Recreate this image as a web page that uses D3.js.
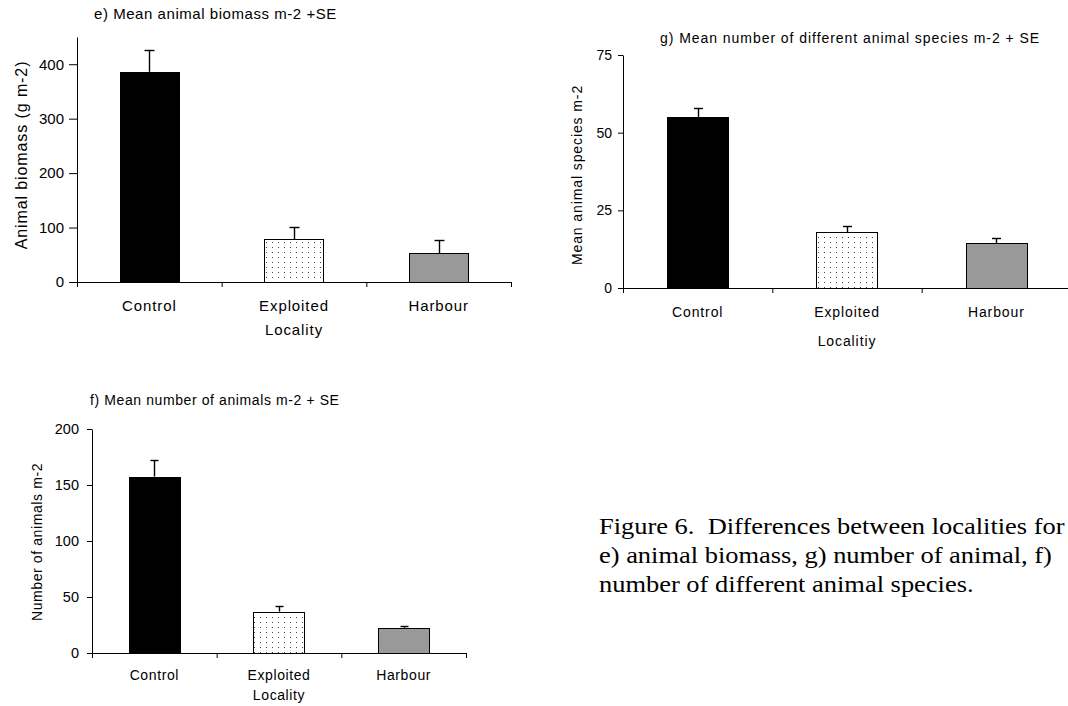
<!DOCTYPE html>
<html>
<head>
<meta charset="utf-8">
<script src="https://cdn.jsdelivr.net/npm/d3@7"></script>
<style>
  body { margin: 0; background: #fff; }
  svg { display: block; font-family: "Liberation Sans", Arimo, Arial, sans-serif; }
</style>
</head>
<body>
<svg id="fig" width="1068" height="706"></svg>
<script>
// categories shared by the three panels
const categories = ["Control", "Exploited", "Harbour"]

// e) biomass
const biomassMean = [386, 79, 53]
const biomassSE = [40, 22, 24]
const biomassTicks = [0, 100, 200, 300, 400]

// g) number of species
const speciesMean = [55, 18, 14.5]
const speciesSE = [3, 2, 1.7]
const speciesTicks = [0, 25, 50, 75]

// f) number of animals
const animalsMean = [157.5, 37, 22.5]
const animalsSE = [14.5, 5, 2]
const animalsTicks = [0, 50, 100, 150, 200]

const fills = ["#000", "url(#dots)", "#999"]

const svg = d3.select("#fig")

// stippled fill for the Exploited bars
const pat = svg.append("defs").append("pattern")
  .attr("id", "dots")
  .attr("patternUnits", "userSpaceOnUse")
  .attr("width", 6).attr("height", 5)
pat.append("rect").attr("width", 6).attr("height", 5).attr("fill", "#fff")
pat.append("rect").attr("x", 2).attr("y", 2).attr("width", 1).attr("height", 1).attr("fill", "#444")

function panel(p) {
  var g = svg.append("g")

  var y = d3.scaleLinear().domain([0, p.max]).range([p.bottom, p.top])
  var xi = d3.scaleLinear().domain([0, categories.length]).range([p.left, p.right])
  var xb = d3.scaleBand().domain(categories).range([p.left, p.right]).padding(0)
  var bw = xb.bandwidth() * 0.41

  // bars
  g.append("g").selectAll("rect")
    .data(categories)
    .enter().append("rect")
    .attr("x", d => Math.round(xb(d) + (xb.bandwidth() - bw) / 2) + 0.5)
    .attr("y", (d, i) => Math.round(y(p.mean[i])) + 0.5)
    .attr("width", Math.round(bw))
    .attr("height", (d, i) => Math.round(p.bottom) - Math.round(y(p.mean[i])))
    .attr("fill", (d, i) => fills[i])
    .attr("stroke", "#000")
    .attr("stroke-width", 1)

  // error bars (upper half only)
  var err = g.append("g").attr("stroke", "#000").attr("stroke-width", 1.4)
  categories.forEach(function(c, i) {
    var cx = Math.round(xb(c) + xb.bandwidth() / 2) + 0.5
    var top = Math.round(y(p.mean[i] + p.se[i])) + 0.5
    err.append("line").attr("x1", cx).attr("x2", cx)
      .attr("y1", y(p.mean[i])).attr("y2", top)
    err.append("line").attr("x1", cx - p.cap / 2).attr("x2", cx + p.cap / 2)
      .attr("y1", top).attr("y2", top)
  })

  // y axis
  var yAxis = g.append("g")
    .attr("transform", `translate(${p.left},0)`)
    .call(d3.axisLeft(y).tickValues(p.ticks).tickSize(p.tickY).tickSizeOuter(0).tickPadding(p.padY))
  yAxis.attr("font-family", null)
  yAxis.selectAll("text").style("font-size", p.tickFont + "px").attr("fill", "#000")
  yAxis.selectAll("line, path").attr("stroke", "#000")

  // x axis, ticks sit between categories
  var xAxis = g.append("g")
    .attr("transform", `translate(0,${p.bottom})`)
    .call(d3.axisBottom(xi).tickValues(d3.range(categories.length + 1)).tickFormat("").tickSize(5).tickSizeOuter(0))
  xAxis.selectAll("line, path").attr("stroke", "#000")

  // category labels
  g.append("g").selectAll("text")
    .data(categories)
    .enter().append("text")
    .attr("x", d => xb(d) + xb.bandwidth() / 2)
    .attr("y", p.catY)
    .attr("text-anchor", "middle")
    .style("font-size", p.font + "px")
    .style("letter-spacing", p.ls + "px")
    .text(d => d)

  g.append("text")
    .attr("x", xb(categories[1]) + xb.bandwidth() / 2)
    .attr("y", p.xLabelY)
    .attr("text-anchor", "middle")
    .style("font-size", p.font + "px")
    .style("letter-spacing", p.ls + "px")
    .text(p.xLabel)

  g.append("text")
    .attr("text-anchor", "middle")
    .attr("transform", `translate(${p.yLabelX},${p.yLabelY}) rotate(-90)`)
    .style("font-size", p.yFont + "px")
    .style("letter-spacing", p.ls + "px")
    .text(p.yLabel)

  g.append("text")
    .attr("x", p.titleX)
    .attr("y", p.titleY)
    .style("font-size", p.font + "px")
    .style("letter-spacing", p.titleLs + "px")
    .text(p.title)
}

panel({
  mean: biomassMean, se: biomassSE, ticks: biomassTicks, max: 450,
  left: 77, right: 511, top: 37, bottom: 282,
  tickY: 8, padY: 5, tickFont: 15, font: 15, yFont: 16, ls: 0.9, titleLs: 0.55, cap: 10,
  catY: 311, xLabel: "Locality", xLabelY: 335,
  yLabel: "Animal biomass (g m-2)", yLabelX: 27, yLabelY: 155,
  title: "e) Mean animal biomass m-2 +SE", titleX: 94, titleY: 19
})

panel({
  mean: speciesMean, se: speciesSE, ticks: speciesTicks, max: 75,
  left: 623, right: 1071, top: 55, bottom: 288,
  tickY: 5, padY: 6, tickFont: 14, font: 14, yFont: 14, ls: 0.9, titleLs: 0.95, cap: 9,
  catY: 317, xLabel: "Localitiy", xLabelY: 346,
  yLabel: "Mean animal species m-2", yLabelX: 582, yLabelY: 175,
  title: "g) Mean number of different animal species m-2 + SE", titleX: 660, titleY: 43
})

panel({
  mean: animalsMean, se: animalsSE, ticks: animalsTicks, max: 200,
  left: 92, right: 466, top: 429, bottom: 653,
  tickY: 5, padY: 8, tickFont: 14.5, font: 14, yFont: 14, ls: 0.6, titleLs: 0.6, cap: 8,
  catY: 680, xLabel: "Locality", xLabelY: 700,
  yLabel: "Number of animals m-2", yLabelX: 42, yLabelY: 542,
  title: "f) Mean number of animals m-2 + SE", titleX: 90, titleY: 405
})

// figure caption
const captionLines = [
  "Figure 6.  Differences between localities for",
  "e) animal biomass, g) number of animal, f)",
  "number of different animal species."
]
svg.append("g")
  .attr("transform", "translate(599,0) scale(1.15,1)")
  .selectAll("text")
  .data(captionLines)
  .enter().append("text")
  .attr("x", 0)
  .attr("y", (d, i) => 534.5 + i * 29)
  .attr("xml:space", "preserve")
  .style("white-space", "pre")
  .style("font-family", "'Liberation Serif', Tinos, 'Times New Roman', serif")
  .style("font-size", "23px")
  .text(d => d)
</script>
</body>
</html>
